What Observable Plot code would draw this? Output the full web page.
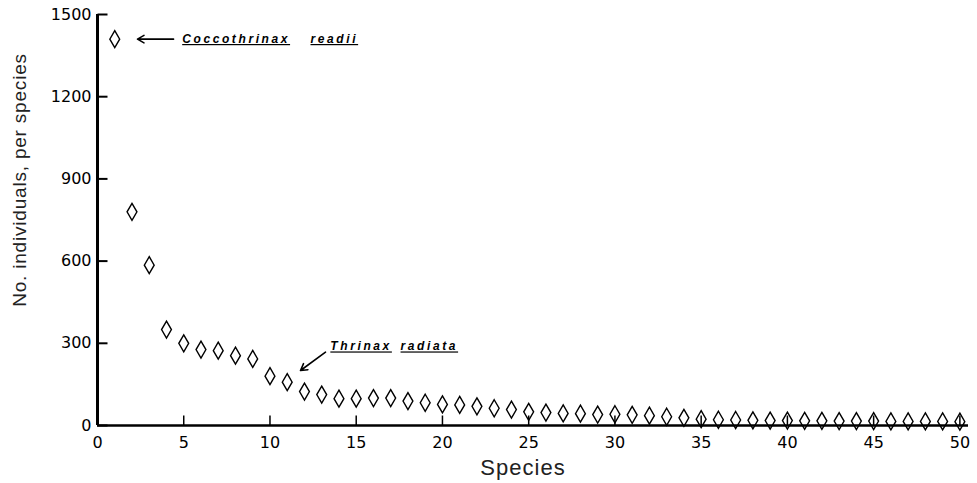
<!DOCTYPE html>
<html><head><meta charset="utf-8">
<script src="https://cdn.jsdelivr.net/npm/d3@7"></script>
<script src="https://cdn.jsdelivr.net/npm/@observablehq/plot@0.6"></script>
<style>
html,body{margin:0;padding:0;background:#fff;}
.anno text{letter-spacing:2.6px;text-decoration:underline;text-decoration-thickness:1.5px;}
.ylab text{letter-spacing:0.8px;}
.xlab text{letter-spacing:1px;}
</style></head><body><div id="chart"></div>
<script>
// rank of species
const species = d3.range(1, 51);
// number of individuals per species
const individuals = [1410, 780, 585, 350, 300, 277, 273, 255, 243, 180,
  158, 124, 113, 98, 98, 100, 100, 89, 83, 77,
  75, 70, 63, 58, 50, 47, 44, 43, 40, 41,
  39, 36, 32, 28, 23, 21, 20, 19, 18, 18,
  17, 17, 16, 16, 16, 15, 15, 15, 15, 14];
const xTicks = [0, 5, 10, 15, 20, 25, 30, 35, 40, 45, 50];
const yTicks = [0, 300, 600, 900, 1200, 1500];
// annotations
const annoWords = ["Coccothrinax", "readii", "Thrinax", "radiata"];
const annoX = [4.91, 12.35, 13.5, 17.57];
const annoY = [1410, 1410, 288, 288];
const arrowX1 = [4.41, 13.22];
const arrowY1 = [1410, 267.5];
const arrowX2 = [2.32, 11.77];
const arrowY2 = [1410, 200.7];

const points = species.map((s, i) => ({species: s, n: individuals[i]}));
const words = annoWords.map((w, i) => ({w, x: annoX[i], y: annoY[i]}));
const arrows = arrowX1.map((x, i) => ({x1: x, y1: arrowY1[i], x2: arrowX2[i], y2: arrowY2[i]}));

const tallDiamond = {draw(ctx, size) {
  const h = Math.sqrt(size / Math.PI), w = h * 0.58;
  ctx.moveTo(0, -h); ctx.lineTo(w, 0); ctx.lineTo(0, h); ctx.lineTo(-w, 0); ctx.closePath();
}};
const tickRight = {draw(ctx, size) { const l = Math.sqrt(size / Math.PI); ctx.moveTo(0, 0); ctx.lineTo(l, 0); }};
const tickUp = {draw(ctx, size) { const l = Math.sqrt(size / Math.PI); ctx.moveTo(0, 0); ctx.lineTo(0, -l); }};

const chart = Plot.plot({
  width: 977, height: 483,
  marginLeft: 97, marginRight: 9, marginTop: 14, marginBottom: 58,
  x: {domain: [0, 50.5]},
  y: {domain: [0, 1500]},
  style: {fontFamily: "DejaVu Sans", background: "white", color: "black"},
  marks: [
    Plot.axisX({ticks: xTicks, tickSize: 0, tickPadding: 11, fontSize: 16, tickFormat: d3.format("d"), label: null}),
    Plot.axisY({ticks: yTicks, tickSize: 0, tickPadding: 6, fontSize: 16, tickFormat: d3.format("d"), label: null}),
    Plot.ruleX([0], {stroke: "black", strokeWidth: 3}),
    Plot.ruleY([0], {stroke: "black", strokeWidth: 2.5}),
    Plot.dot(yTicks, {x: () => 0, y: d => d, symbol: tickRight, r: 10, fill: "none", stroke: "black", strokeWidth: 2}),
    Plot.dot(xTicks.filter(d => d > 0), {x: d => d, y: () => 0, symbol: tickUp, r: 10, fill: "none", stroke: "black", strokeWidth: 1.5}),
    Plot.dot(points, {x: "species", y: "n", symbol: tallDiamond, r: 8.5, fill: "none", stroke: "black", strokeWidth: 1.4}),
    Plot.arrow(arrows, {x1: "x1", y1: "y1", x2: "x2", y2: "y2", stroke: "black", strokeWidth: 1.6, headLength: 7}),
    Plot.text(words, {x: "x", y: "y", text: "w", textAnchor: "start", fontSize: 12, fontWeight: "bold", fontStyle: "italic", fontFamily: "Liberation Sans", className: "anno"}),
    Plot.text(["No. individuals, per species"], {frameAnchor: "left", textAnchor: "middle", dx: -78, dy: -40, rotate: -90, fontSize: 19, fontFamily: "Liberation Sans", fill: "#222", className: "ylab"}),
    Plot.text(["Species"], {frameAnchor: "bottom", textAnchor: "middle", dx: -10, dy: 49, fontSize: 22, fontFamily: "Liberation Sans", fill: "#222", className: "xlab"})
  ]
});
document.getElementById("chart").appendChild(chart);
</script></body></html>
